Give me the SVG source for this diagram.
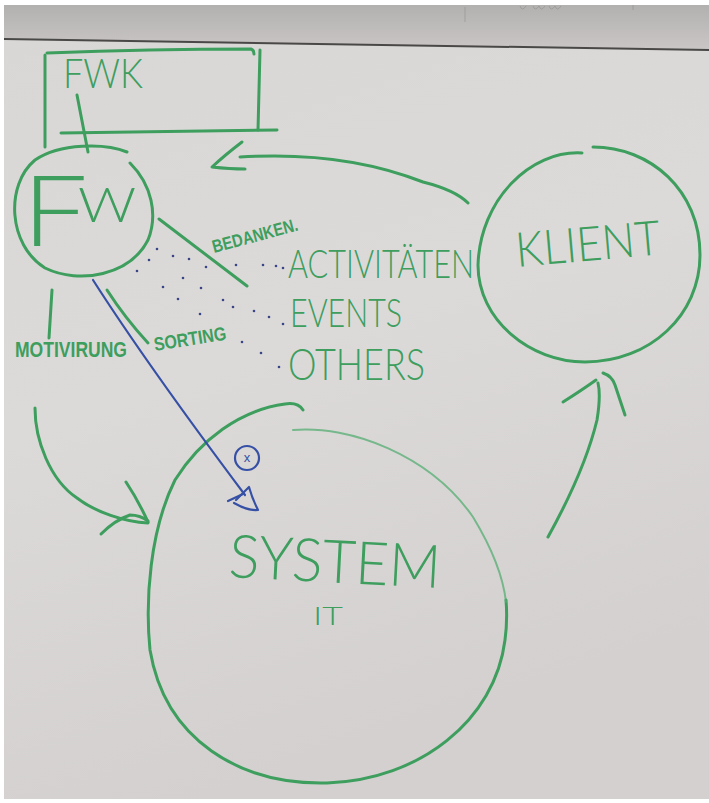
<svg xmlns="http://www.w3.org/2000/svg" width="709" height="803" viewBox="0 0 709 803">
<defs>
<linearGradient id="board" x1="0" y1="0" x2="0.3" y2="1">
<stop offset="0" stop-color="#d9d7d6"/>
<stop offset="0.5" stop-color="#dcdad9"/>
<stop offset="1" stop-color="#d3d0cf"/>
</linearGradient>
<linearGradient id="band" x1="0" y1="0" x2="0" y2="1">
<stop offset="0" stop-color="#b3b0b0"/>
<stop offset="1" stop-color="#c9c6c5"/>
</linearGradient>
<style>
.g{fill:none;stroke:#3d9e5e;stroke-width:3;stroke-linecap:round;stroke-linejoin:round}
.gf{fill:none;stroke:#54ad72;stroke-width:2;stroke-linecap:round;opacity:0.75}
.b{fill:none;stroke:#3650a6;stroke-width:2.2;stroke-linecap:round;stroke-linejoin:round}
.t{font-family:"Lato","Liberation Sans","DejaVu Sans",sans-serif;font-weight:300;fill:#3d9e5e}
.s{font-family:"Liberation Sans","DejaVu Sans",sans-serif;font-weight:bold;fill:#3d9e5e}
.dot{fill:#3a4588}
</style>
</defs>
<rect width="709" height="803" fill="#ffffff"/>
<rect x="4" y="5" width="705" height="794" fill="url(#board)"/>
<polygon points="4,5 709,5 709,50 4,39" fill="url(#band)"/>
<path d="M4,39 L709,50" stroke="#4a4747" stroke-width="2" fill="none"/>
<g opacity="0.5" fill="none" stroke="#8a8888" stroke-width="1">
<path d="M465,7 L465,22"/>
<path d="M520,6 Q522,12 526,6"/>
<path d="M533,6 Q535,12 539,6 Q541,12 545,6"/>
<path d="M549,6 Q551,12 555,6 Q557,12 561,6"/>
<path d="M633,5 L633,10"/>
</g>

<g id="node-fwk">
<path class="g" d="M45,55 L45,147"/>
<path class="g" d="M47,53 Q150,49 251,49 Q254,50 254,54"/>
<path class="g" d="M260,50 L258,130"/>
<path class="g" d="M61,133 L277,130"/>
<text class="t" x="63" y="88" font-size="42" textLength="80" lengthAdjust="spacingAndGlyphs">FWK</text>
</g>

<g id="node-fw">
<path class="g" d="M127,152 C105,143 60,143 35,160 C5,185 8,245 45,268 C80,285 130,275 148,240 C158,215 152,185 130,163"/>
<text class="t" x="22" y="246" font-size="98" textLength="124" lengthAdjust="spacingAndGlyphs">F<tspan x="78" y="222" font-size="48">W</tspan></text>
</g>

<g id="node-klient">
<path class="g" d="M582,153 C530,150 480,200 478,265 C478,320 530,362 585,362 C650,362 700,315 700,255 C700,190 650,147 593,147"/>
<text class="t" x="517" y="267" font-size="48" textLength="145" lengthAdjust="spacingAndGlyphs" transform="rotate(-5 517 267)">KLIENT</text>
</g>

<g id="node-system">
<path class="g" d="M303,410 Q298,402 285,404 C240,410 200,440 175,480 C150,530 145,600 150,650 C165,740 240,785 327,783 C420,780 495,720 505,640 C507,625 507,612 506,600"/>
<path class="gf" d="M293,430 C350,425 430,455 473,517 C490,545 503,575 506,602"/>
<text class="t" x="228" y="577" font-size="60" textLength="212" lengthAdjust="spacingAndGlyphs" transform="rotate(3 228 577)">SYSTEM</text>
<text class="t" x="313" y="625" font-size="25" textLength="30" lengthAdjust="spacingAndGlyphs">IT</text>
</g>

<g id="node-items">
<text class="t" x="288" y="278" font-size="39" textLength="186" lengthAdjust="spacingAndGlyphs">ACTIVITÄTEN</text>
<text class="t" x="290" y="327" font-size="40" textLength="112" lengthAdjust="spacingAndGlyphs">EVENTS</text>
<text class="t" x="288" y="380" font-size="44" textLength="137" lengthAdjust="spacingAndGlyphs">OTHERS</text>
</g>

<g id="connectors">
<path class="g" d="M77,95 L88,152"/>
<path class="g" d="M468,203 Q455,190 423,182 C380,165 320,152 240,157"/>
<path class="g" d="M242,142 Q225,155 212,167 Q230,169 245,169"/>
<path class="g" d="M159,219 L247,286"/>
<path class="g" d="M107,290 Q125,318 148,343"/>
<path class="g" d="M52,290 L49,338"/>
<path class="g" d="M35,408 C35,440 50,480 77,498 C95,512 125,522 148,523"/>
<path class="g" d="M126,482 Q138,500 148,522"/>
<path class="g" d="M101,534 Q115,520 130,515 Q140,515 148,521"/>
<path class="g" d="M548,537 Q585,470 597,420 Q601,395 598,383"/>
<path class="g" d="M563,402 Q582,390 596,380"/>
<path class="g" d="M603,373 Q612,376 615,385 Q620,400 625,415"/>
<path class="b" d="M93,280 C125,330 185,415 245,495"/>
<path class="b" d="M228,501 L243,494"/>
<path class="b" d="M236,500 L249,487 Q252,498 258,510 Q248,511 234,503"/>
<circle class="b" cx="247" cy="458" r="12" stroke-width="2"/>
<text x="247" y="462" font-size="13" text-anchor="middle" font-family="Liberation Sans, sans-serif" fill="#3650a6">x</text>
</g>

<g id="dots">
<circle class="dot" cx="157" cy="249" r="1.3"/>
<circle class="dot" cx="149" cy="260" r="1.3"/>
<circle class="dot" cx="173" cy="256" r="1.3"/>
<circle class="dot" cx="189" cy="259" r="1.3"/>
<circle class="dot" cx="137" cy="271" r="1.3"/>
<circle class="dot" cx="206" cy="267" r="1.3"/>
<circle class="dot" cx="236" cy="265" r="1.3"/>
<circle class="dot" cx="263" cy="265" r="1.3"/>
<circle class="dot" cx="276" cy="266" r="1.3"/>
<circle class="dot" cx="283" cy="268" r="1.3"/>
<circle class="dot" cx="183" cy="278" r="1.3"/>
<circle class="dot" cx="163" cy="287" r="1.3"/>
<circle class="dot" cx="201" cy="288" r="1.3"/>
<circle class="dot" cx="178" cy="299" r="1.3"/>
<circle class="dot" cx="223" cy="300" r="1.3"/>
<circle class="dot" cx="233" cy="307" r="1.3"/>
<circle class="dot" cx="254" cy="311" r="1.3"/>
<circle class="dot" cx="269" cy="317" r="1.3"/>
<circle class="dot" cx="283" cy="324" r="1.3"/>
<circle class="dot" cx="200" cy="314" r="1.3"/>
<circle class="dot" cx="242" cy="342" r="1.3"/>
<circle class="dot" cx="261" cy="353" r="1.3"/>
<circle class="dot" cx="279" cy="367" r="1.3"/>
</g>

<g id="labels">
<text class="s" x="214" y="253" font-size="18" textLength="88" lengthAdjust="spacingAndGlyphs" transform="rotate(-15 214 253)">BEDANKEN.</text>
<text class="s" x="155" y="351" font-size="19" textLength="73" lengthAdjust="spacingAndGlyphs" transform="rotate(-9 155 351)">SORTING</text>
<text class="s" x="15" y="357" font-size="22" textLength="112" lengthAdjust="spacingAndGlyphs">MOTIVIRUNG</text>
</g>
</svg>
